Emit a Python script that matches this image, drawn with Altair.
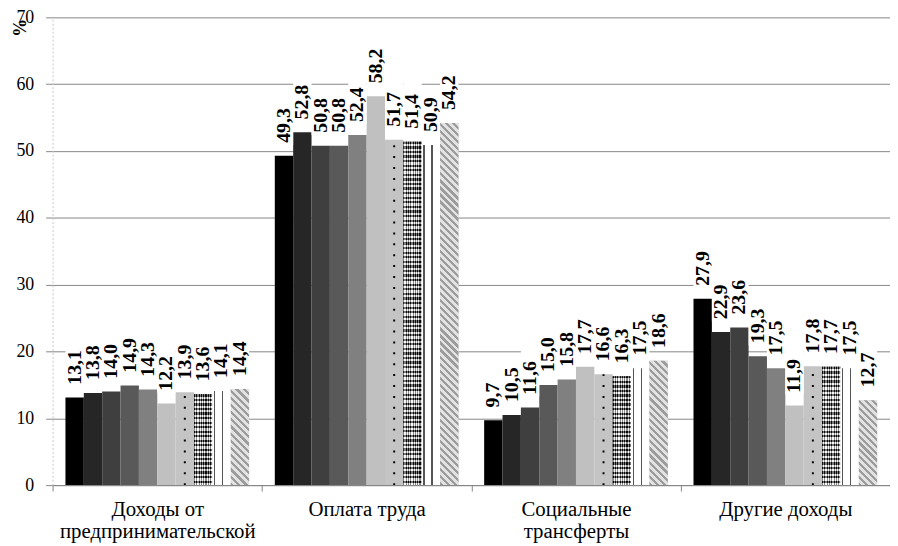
import altair as alt
import pandas as pd

categories = ["Доходы от\nпредпринимательской", "Оплата труда", "Социальные\nтрансферты", "Другие доходы"]
series = ["1", "2", "3", "4", "5", "6", "7", "8", "9", "10"]
vals_business = [13.1, 13.8, 14.0, 14.9, 14.3, 12.2, 13.9, 13.6, 14.1, 14.4]
vals_wages = [49.3, 52.8, 50.8, 50.8, 52.4, 58.2, 51.7, 51.4, 50.9, 54.2]
vals_social = [9.7, 10.5, 11.6, 15.0, 15.8, 17.7, 16.6, 16.3, 17.5, 18.6]
vals_other = [27.9, 22.9, 23.6, 19.3, 17.5, 11.9, 17.8, 17.7, 17.5, 12.7]
y_ticks = [0, 10, 20, 30, 40, 50, 60, 70]

colors = ["#000000", "#262626", "#3f3f3f", "#595959", "#808080",
          "#c0c0c0", "#c4c4c4", "#7a7a7a", "#ffffff", "#c6c6c6"]

all_vals = [vals_business, vals_wages, vals_social, vals_other]
rows = []
for c, vs in zip(categories, all_vals):
    for s, v in zip(series, vs):
        rows.append({"cat": c, "ser": s, "v": v})
df = pd.DataFrame(rows)

W, H = 845, 472
YMAX = 70
px_per_unit = H / YMAX
band_w = W / len(categories)
sub_w = band_w / (len(series) + 1.4)

FONT = "'Liberation Serif', 'Times New Roman', 'DejaVu Serif', serif"


def hard_stops(segments):
    stops = []
    for a, b, col in segments:
        stops.append(alt.GradientStop(offset=a, color=col))
        stops.append(alt.GradientStop(offset=b, color=col))
    return stops


def stripe_segments(n, dark, light, frac=0.5):
    segs = []
    for i in range(n):
        segs.append((i / n, (i + frac) / n, dark))
        segs.append(((i + frac) / n, (i + 1) / n, light))
    return segs


# checkered look (series 8): vertical stripes + translucent horizontal stripes
checker_grad = alt.Gradient(gradient="linear", x1=0, y1=0, x2=1, y2=0,
                            stops=hard_stops(stripe_segments(8, "#111111", "#f2f2f2")))


def checker_rows_grad(v):
    h = v * px_per_unit
    n = max(2, round(h / (sub_w / 4)))
    return alt.Gradient(gradient="linear", x1=0, y1=0, x2=0, y2=1,
                        stops=hard_stops(stripe_segments(n, "#000000", "#ffffff")))


# white with vertical lines (series 9)
stripe_grad = alt.Gradient(gradient="linear", x1=0, y1=0, x2=1, y2=0,
                           stops=hard_stops([(0, 0.08, "#ffffff"), (0.08, 0.16, "#555555"),
                                             (0.16, 0.52, "#ffffff"), (0.52, 0.60, "#555555"),
                                             (0.60, 1, "#ffffff")]))


def hatch_grad(v):
    h = v * px_per_unit
    k = h / sub_w
    s = (1 + k) / (1 + k * k)
    n = max(3, round((sub_w + h) / 1.4142 / 5.0))
    return alt.Gradient(gradient="linear", x1=0, y1=1, x2=s, y2=1 - s * k,
                        stops=hard_stops(stripe_segments(n, "#9c9c9c", "#e2e2e2", 0.45)))


x_axis = alt.Axis(title=None, labelExpr="split(datum.label, '\\n')", labelAngle=0,
                  labelFont=FONT, labelFontSize=21, labelColor="#000000",
                  labelLineHeight=22, labelPadding=8, labelLimit=400, tickBand="extent",
                  tickSize=6, tickColor="#868686", domainColor="#868686",
                  grid=False)
y_axis = alt.Axis(title="%", titleAngle=90, titleX=-35, titleY=10, titleFont=FONT,
                  titleFontSize=18, titleFontWeight="bold", titleColor="#000000",
                  titleAlign="center", titleBaseline="middle",
                  values=y_ticks, labelFont=FONT, labelFontSize=18, labelColor="#000000",
                  labelPadding=12, tickSize=7, tickColor="#868686",
                  domainColor="#c8c8c8", domainDash=[2, 2],
                  grid=True, gridColor="#868686", gridWidth=1)

base = alt.Chart(df).encode(
    x=alt.X("cat:N", sort=categories,
            scale=alt.Scale(paddingInner=0, paddingOuter=0), axis=x_axis),
    xOffset=alt.XOffset("ser:N", sort=series,
                        scale=alt.Scale(domain=series, paddingInner=0, paddingOuter=0.7)),
)

yscale = alt.Scale(domain=[0, YMAX], nice=False)

bars = base.mark_bar().encode(
    y=alt.Y("v:Q", scale=yscale, axis=y_axis),
    color=alt.Color("ser:N", scale=alt.Scale(domain=series, range=colors), legend=None),
)

checker = base.transform_filter(alt.datum.ser == "8").mark_bar(color=checker_grad).encode(
    y=alt.Y("v:Q", scale=yscale))

checker_rows = []
for c, vs in zip(categories, all_vals):
    checker_rows.append(
        base.transform_filter((alt.datum.ser == "8") & (alt.datum.cat == c))
        .mark_bar(color=checker_rows_grad(vs[7]), opacity=0.5)
        .encode(y=alt.Y("v:Q", scale=yscale))
    )

stripes = base.transform_filter(alt.datum.ser == "9").mark_bar(color=stripe_grad).encode(
    y=alt.Y("v:Q", scale=yscale))

hatch_layers = []
for c, vs in zip(categories, all_vals):
    hatch_layers.append(
        base.transform_filter((alt.datum.ser == "10") & (alt.datum.cat == c))
        .mark_bar(color=hatch_grad(vs[9]))
        .encode(y=alt.Y("v:Q", scale=yscale))
    )

dots = base.transform_filter(alt.datum.ser == "7").transform_calculate(z="0").mark_rule(
    color="#000000", strokeWidth=2, strokeDash=[2, 9]
).encode(y=alt.Y("z:Q", scale=yscale), y2="v:Q")

boxes = base.transform_calculate(lo="datum.v + 1.6", hi="datum.v + 8.8").mark_bar(
    color="#ffffff").encode(y=alt.Y("lo:Q", scale=yscale), y2="hi:Q")

labels = base.transform_calculate(
    lab="replace(format(datum.v, '.1f'), '.', ',')"
).mark_text(angle=270, align="left", baseline="middle", dx=13, font=FONT,
            fontSize=20, fontWeight="bold", color="#000000").encode(
    y=alt.Y("v:Q", scale=yscale), text="lab:N")

chart = alt.layer(bars, checker, *checker_rows, stripes, *hatch_layers, dots, boxes, labels).properties(
    width=W, height=H,
    autosize=alt.AutoSizeParams(type="none"),
    padding={"left": 45, "top": 7, "right": 0, "bottom": 60},
).configure_view(stroke=None)

chart.save("out.html", embed_options={"renderer": "svg", "actions": False})
